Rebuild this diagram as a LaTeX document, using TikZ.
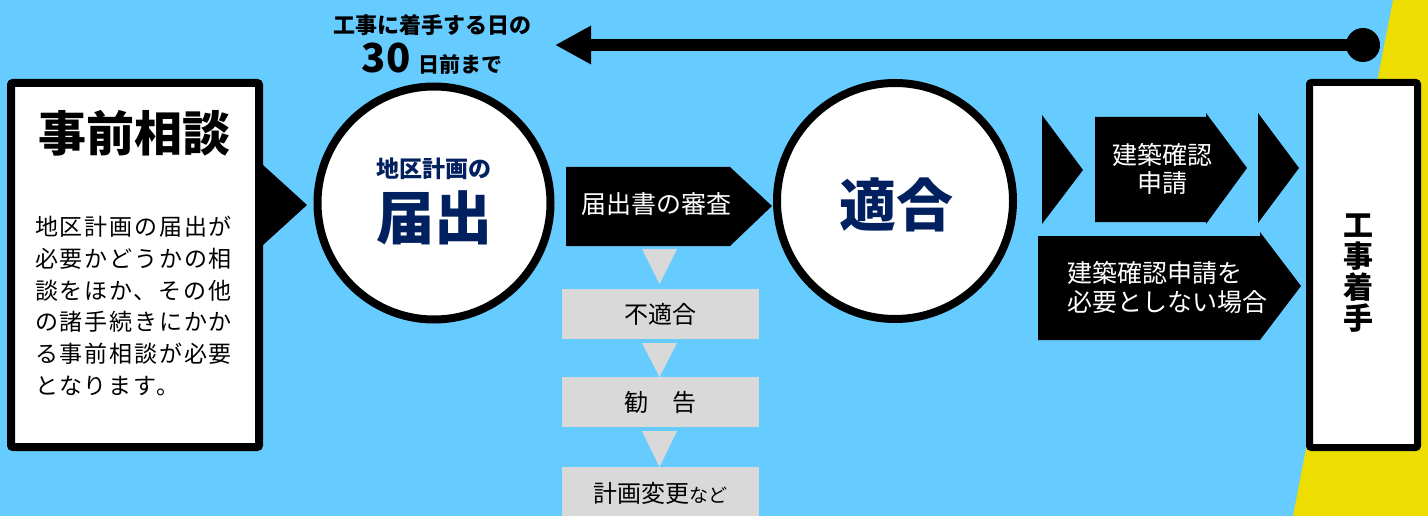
\documentclass[tikz,border=0pt]{standalone}
\usepackage{fontspec}
\setmainfont{Noto Sans CJK JP}
\usetikzlibrary{arrows.meta}
\definecolor{bg}{HTML}{66CCFF}
\definecolor{yel}{HTML}{EEDD00}
\definecolor{navy}{HTML}{002060}
\definecolor{gry}{HTML}{D9D9D9}
\newcommand{\fsz}[2]{\fontsize{#1}{#2}\selectfont}
\begin{document}
\begin{tikzpicture}[x=1pt,y=-1pt,
  txt/.style={inner sep=0pt, outer sep=0pt},
  whitebox/.style={draw=black, fill=white, rounded corners=2pt, inner sep=0pt, anchor=north west},
  bigcircle/.style={circle, draw=black, line width=8pt, fill=white, inner sep=0pt},
  gbox/.style={fill=gry, minimum width=197pt, minimum height=50pt, inner sep=0pt, font=\fsz{24}{24}},
  gtri/.style={fill=gry},
  blk/.style={fill=black}]
\fill[bg] (0,0) rectangle (1428,516);
\useasboundingbox (0,0) rectangle (1428,516);
\fill[yel] (1393,0) -- (1428,0) -- (1428,516) -- (1293,516) -- cycle;

% left box
\node[whitebox, line width=8pt, minimum width=248pt, minimum height=364pt] (pre) at (7,79) {};
\node[txt, font=\fsz{48}{48}\bfseries, anchor=base] (preT) at (134,152) {事前相談};
\node[txt, font=\fsz{23}{31.8}\addfontfeatures{LetterSpace=8}, align=left, anchor=north west] (preB) at (35,216)
  {地区計画の届出が\\必要かどうかの相\\談をほか、その他\\の諸手続きにかか\\る事前相談が必要\\となります。};

\fill[blk] (263,165) -- (307,205) -- (263,245) -- cycle;

% circle 1
\node[bigcircle, minimum size=233pt] (c1) at (434,203) {};
\node[txt, font=\fsz{23}{23}\bfseries, text=navy, anchor=base] (c1a) at (434,178) {地区計画の};
\node[txt, font=\fsz{58}{58}\bfseries, text=navy, anchor=base] (c1b) at (434,240) {届出};

% deadline text
\node[txt, font=\fsz{22}{22}\bfseries, anchor=base] (dl1) at (432,34) {工事に着手する日の};
\node[txt, font=\bfseries, anchor=base] (dl2) at (432,73) {\fsz{40}{40}30\hspace{8pt}\fsz{21}{21}日前まで};

% long arrow
\node[circle, fill=black, minimum size=34pt, inner sep=0pt] (dot) at (1363,45) {};
\coordinate (tip) at (555,45);
\draw[line width=12pt, -{Triangle[length=36pt, width=36pt]}] (dot.center) -- (tip);

% review pentagon
\fill[blk] (566,167) -- (730,167) -- (772,206) -- (730,246) -- (566,246) -- cycle;
\node[txt, text=white, font=\fsz{25}{25}, anchor=base] (rev) at (656,214) {届出書の審査};

% circle 2
\node[bigcircle, minimum size=236pt] (c2) at (895,201) {};
\node[txt, font=\fsz{57}{57}\bfseries, text=navy, anchor=base] (c2a) at (896,226) {適合};

% gray chain
\fill[gtri] (642,249) -- (677,249) -- (659.5,284) -- cycle;
\node[gbox] (g1) at (660.5,314) {不適合};
\fill[gtri] (642,343) -- (677,343) -- (659.5,377) -- cycle;
\node[gbox] (g2) at (660.5,402) {勧　告};
\fill[gtri] (642,431) -- (677,431) -- (659.5,467) -- cycle;
\node[gbox, minimum height=52pt] (g3) at (660.5,493) {計画変更{\fsz{19}{19}など}};

% right side
\fill[blk] (1042,115) -- (1083,170) -- (1042,224) -- cycle;
\fill[blk] (1095,117) -- (1206,117) -- (1206,113) -- (1247,168) -- (1206,224) -- (1206,222) -- (1095,222) -- cycle;
\node[txt, text=white, font=\fsz{25}{28}, align=center] (kakunin) at (1162,169) {建築確認\\申請};
\fill[blk] (1258,113) -- (1299,168) -- (1258,223) -- cycle;
\fill[blk] (1038,236) -- (1260,236) -- (1260,232) -- (1301,286) -- (1260,340) -- (1038,340) -- cycle;
\node[txt, text=white, font=\fsz{25}{29}, align=left, anchor=west] (fuyou) at (1067,287) {建築確認申請を\\必要としない場合};

% construction start box
\node[whitebox, line width=7pt, minimum width=108pt, minimum height=365pt] (kou) at (1306,79) {};
\node[txt, font=\fsz{30}{31}\bfseries, align=center] (kouT) at (1358,273) {工\\事\\着\\手};
\end{tikzpicture}
\end{document}
